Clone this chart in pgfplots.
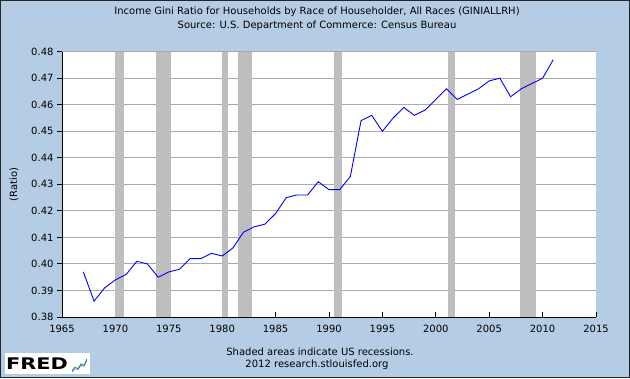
\documentclass[border=0pt]{standalone}
\usepackage{pgfplots}
\pgfplotsset{compat=1.18}
\usepackage{fontspec}
\setmainfont{DejaVu Sans}
\definecolor{bgblue}{RGB}{180,205,228}
\definecolor{recgray}{RGB}{190,190,190}
\definecolor{gridgray}{RGB}{170,170,170}
\newcommand{\tfont}{\fontsize{10bp}{12bp}\selectfont}
\begin{document}
\begin{tikzpicture}[x=1bp,y=1bp]
\useasboundingbox (0,0) rectangle (630,378);
\fill[bgblue] (0,0) rectangle (630,378);
\draw[black!85, line width=1bp] (0.5,0.5) rectangle (629.5,377.5);
\node[font=\tfont] at (317,366.5) {Income Gini Ratio for Households by Race of Householder, All Races (GINIALLRH)};
\node[font=\tfont] at (317,352) {Source: U.S. Department of Commerce: Census Bureau};
\node[font=\tfont] at (320,26) {Shaded areas indicate US recessions.};
\node[font=\tfont] at (317,13) {2012 research.stlouisfed.org};
\fill[white] (5,4) rectangle (90,25);
\node[font=\fontsize{16bp}{18bp}\selectfont\bfseries, xscale=1.3, inner sep=0pt] at (37,14.5) {FRED};
\begin{axis}[
  at={(72bp,6bp)}, anchor=south west, scale only axis,
  width=15bp, height=15bp, hide axis,
  xmin=0, xmax=5, ymin=0, ymax=9]
\addplot[color=green!60!black, line width=0.6bp, mark=none] coordinates {(0,1)(1,3)(2,2)(3,5)(4,4)(5,8)};
\addplot[color=blue!70, line width=0.6bp, mark=none] coordinates {(0,0)(1,2)(2,1.5)(3,4)(4,3.5)(5,7)};
\end{axis}
\begin{axis}[
  at={(62bp,61bp)}, anchor=south west, scale only axis,
  width=534bp, height=265.3bp,
  xmin=1965, xmax=2015, ymin=0.38, ymax=0.48,
  xtick={1965,1970,1975,1980,1985,1990,1995,2000,2005,2010,2015},
  ytick={0.38,0.39,0.40,0.41,0.42,0.43,0.44,0.45,0.46,0.47,0.48},
  axis background/.style={fill=white},
  axis x line*=bottom, axis y line*=left,
  axis line style={black, line width=1bp, -},
  tick align=outside, major tick length=5bp,
  x tick style={yshift=5bp, black, line width=1bp},
  y tick style={black, line width=1bp},
  ymajorgrids, grid style={gridgray, line width=1bp},
  tick label style={font=\tfont},
  /pgf/number format/assume math mode=true,
  xticklabel style={/pgf/number format/1000 sep={}},
  yticklabel style={/pgf/number format/fixed, /pgf/number format/fixed zerofill, /pgf/number format/precision=2},
  ylabel={(Ratio)}, ylabel style={font=\tfont},
  every axis y label/.style={at={(axis description cs:-0.09,0.5)}, rotate=90, anchor=center},
  clip=true,
]
\addplot[fill=recgray, draw=none, forget plot] coordinates {(1969.92,0.38)(1969.92,0.48)(1970.83,0.48)(1970.83,0.38)} -- cycle;
\addplot[fill=recgray, draw=none, forget plot] coordinates {(1973.83,0.38)(1973.83,0.48)(1975.17,0.48)(1975.17,0.38)} -- cycle;
\addplot[fill=recgray, draw=none, forget plot] coordinates {(1980.0,0.38)(1980.0,0.48)(1980.5,0.48)(1980.5,0.38)} -- cycle;
\addplot[fill=recgray, draw=none, forget plot] coordinates {(1981.5,0.38)(1981.5,0.48)(1982.83,0.48)(1982.83,0.38)} -- cycle;
\addplot[fill=recgray, draw=none, forget plot] coordinates {(1990.5,0.38)(1990.5,0.48)(1991.17,0.48)(1991.17,0.38)} -- cycle;
\addplot[fill=recgray, draw=none, forget plot] coordinates {(2001.17,0.38)(2001.17,0.48)(2001.83,0.48)(2001.83,0.38)} -- cycle;
\addplot[fill=recgray, draw=none, forget plot] coordinates {(2007.92,0.38)(2007.92,0.48)(2009.42,0.48)(2009.42,0.38)} -- cycle;
\addplot[color=blue, line width=0.9bp, mark=none] table {
x y
1967 0.397
1968 0.386
1969 0.391
1970 0.394
1971 0.396
1972 0.401
1973 0.400
1974 0.395
1975 0.397
1976 0.398
1977 0.402
1978 0.402
1979 0.404
1980 0.403
1981 0.406
1982 0.412
1983 0.414
1984 0.415
1985 0.419
1986 0.425
1987 0.426
1988 0.426
1989 0.431
1990 0.428
1991 0.428
1992 0.433
1993 0.454
1994 0.456
1995 0.450
1996 0.455
1997 0.459
1998 0.456
1999 0.458
2000 0.462
2001 0.466
2002 0.462
2003 0.464
2004 0.466
2005 0.469
2006 0.470
2007 0.463
2008 0.466
2009 0.468
2010 0.470
2011 0.477
};
\end{axis}
\end{tikzpicture}
\end{document}
